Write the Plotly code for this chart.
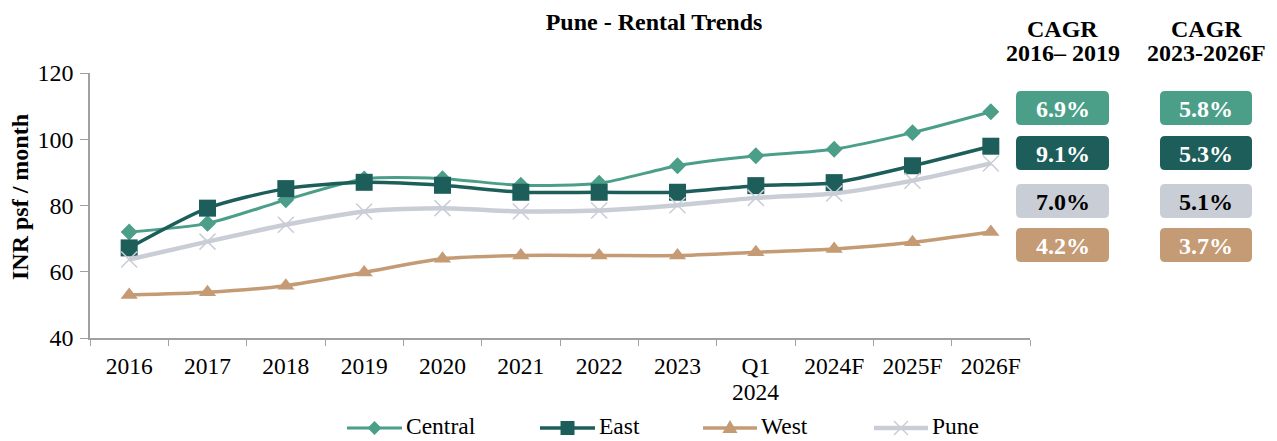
import plotly.graph_objects as go

# Categories and rent series (INR psf / month)
periods = ["2016", "2017", "2018", "2019", "2020", "2021", "2022", "2023",
           "Q1 2024", "2024F", "2025F", "2026F"]
tick_text = ["2016", "2017", "2018", "2019", "2020", "2021", "2022", "2023",
             "Q1", "2024F", "2025F", "2026F"]
central = [72, 74.6, 81.7, 88, 88.1, 86.1, 86.7, 92, 95, 97, 102, 108.3]
east = [67.2, 79.2, 85.1, 87, 86.1, 84, 84, 84, 86, 86.9, 92, 97.9]
west = [53, 53.8, 55.8, 59.8, 63.9, 64.9, 64.9, 64.9, 65.9, 66.9, 68.9, 72]
pune = [63.7, 69.1, 74.2, 78.2, 79.2, 78.2, 78.5, 80.1, 82.3, 83.6, 87.5, 92.7]

# CAGR tables
cagr_head = [("CAGR", "2016\u2013 2019"), ("CAGR", "2023-2026F")]
cagr_1619 = ["6.9%", "9.1%", "7.0%", "4.2%"]
cagr_2326 = ["5.8%", "5.3%", "5.1%", "3.7%"]

C_CENTRAL = "#4B9E88"
C_EAST = "#1D5E5A"
C_WEST = "#C49B74"
C_PUNE = "#C9CDD6"
FONT = "Liberation Serif"

W, H = 1277, 441
L, R, T, B = 90, 1030, 73, 338

fig = go.Figure()

series = [
    ("Central", central, C_CENTRAL, dict(symbol="diamond", size=13, color=C_CENTRAL), 3),
    ("East", east, C_EAST, dict(symbol="square", size=17, color=C_EAST), 3.5),
    ("West", west, C_WEST, dict(symbol="triangle-up", size=15, color=C_WEST), 3.5),
    ("Pune", pune, C_PUNE, dict(symbol="x-thin", size=16, color=C_PUNE,
                                line=dict(color=C_PUNE, width=1.5)), 4.5),
]
for name, vals, col, mk, lw in series:
    fig.add_trace(go.Scatter(
        x=periods, y=vals, name=name, mode="lines+markers",
        line=dict(color=col, width=lw, shape="spline", smoothing=0.7),
        marker=mk, cliponaxis=False, showlegend=False,
    ))


def px2paper(x, y):
    return (x - L) / (R - L), (B - y) / (B - T)


def pth(points, close=True):
    segs = []
    for i, (x, y) in enumerate(points):
        a, b = px2paper(x, y)
        segs.append(("M " if i == 0 else "L ") + f"{a:.5f},{b:.5f}")
    return " ".join(segs) + (" Z" if close else "")


def rounded_box(x0, y0, x1, y1, r=5):
    def p(x, y):
        a, b = px2paper(x, y)
        return f"{a:.5f},{b:.5f}"
    return (f"M {p(x0 + r, y0)} L {p(x1 - r, y0)} Q {p(x1, y0)} {p(x1, y0 + r)} "
            f"L {p(x1, y1 - r)} Q {p(x1, y1)} {p(x1 - r, y1)} "
            f"L {p(x0 + r, y1)} Q {p(x0, y1)} {p(x0, y1 - r)} "
            f"L {p(x0, y0 + r)} Q {p(x0, y0)} {p(x0 + r, y0)} Z")


shapes = []
annotations = []


def text_at(txt, x, y, size, color="black", xanchor="center", angle=0):
    ax, ay = px2paper(x, y)
    annotations.append(dict(
        text=txt, x=ax, y=ay, xref="paper", yref="paper", showarrow=False,
        font=dict(family=FONT, size=size, color=color), textangle=angle,
        xanchor=xanchor, yanchor="middle", borderpad=0,
    ))


# CAGR boxes
box_fills = [C_CENTRAL, C_EAST, C_PUNE, C_WEST]
text_cols = ["white", "white", "black", "white"]
rows_y = [(91, 125), (136, 170), (184, 218), (228, 262)]
cols_x = [(1016, 1109), (1160, 1252)]
for (h1, h2), vals, (cx0, cx1) in zip(cagr_head, [cagr_1619, cagr_2326], cols_x):
    cxm = (cx0 + cx1) / 2
    text_at(f"<b>{h1}</b>", cxm, 29, 24)
    text_at(f"<b>{h2}</b>", cxm, 53, 24)
    for ri, v in enumerate(vals):
        y0, y1 = rows_y[ri]
        shapes.append(dict(type="path", xref="paper", yref="paper",
                           path=rounded_box(cx0, y0, cx1, y1),
                           fillcolor=box_fills[ri], line=dict(width=0)))
        text_at(f"<b>{v}</b>", cxm, (y0 + y1) / 2 + 1, 24, text_cols[ri])

# y-axis title
text_at("<b>INR psf / month</b>", 20, 197, 24, angle=-90)

# second line of the "Q1 2024" category label
annotations.append(dict(
    text="2024", x="Q1 2024", xref="x", y=px2paper(0, 392)[1], yref="paper",
    showarrow=False, font=dict(family=FONT, size=23.5, color="black"),
    xanchor="center", yanchor="middle",
))

# legend
LY = 428
legend_items = [
    ("Central", C_CENTRAL, 347, 402, "diamond", 3),
    ("East", C_EAST, 540, 595, "square", 3.5),
    ("West", C_WEST, 703, 757, "triangle", 3.5),
    ("Pune", C_PUNE, 874, 928, "x", 4.5),
]
for name, col, lx0, lx1, sym, lw in legend_items:
    a0, b0 = px2paper(lx0, LY)
    a1, _ = px2paper(lx1, LY)
    shapes.append(dict(type="line", xref="paper", yref="paper", x0=a0, x1=a1,
                       y0=b0, y1=b0, line=dict(color=col, width=lw)))
    mx = (lx0 + lx1) / 2
    if sym == "diamond":
        shapes.append(dict(type="path", xref="paper", yref="paper",
                           path=pth([(mx, LY - 7), (mx + 7, LY), (mx, LY + 7), (mx - 7, LY)]),
                           fillcolor=col, line=dict(width=0)))
    elif sym == "square":
        shapes.append(dict(type="path", xref="paper", yref="paper",
                           path=pth([(mx - 7, LY - 7), (mx + 7, LY - 7), (mx + 7, LY + 7), (mx - 7, LY + 7)]),
                           fillcolor=col, line=dict(width=0)))
    elif sym == "triangle":
        shapes.append(dict(type="path", xref="paper", yref="paper",
                           path=pth([(mx, LY - 8), (mx + 7.5, LY + 5), (mx - 7.5, LY + 5)]),
                           fillcolor=col, line=dict(width=0)))
    else:
        for dx in (-1, 1):
            shapes.append(dict(type="path", xref="paper", yref="paper",
                               path=pth([(mx - 7 * dx, LY - 7), (mx + 7 * dx, LY + 7)], close=False),
                               line=dict(color=col, width=1.5)))
    text_at(name, lx1 + 3, LY - 2, 23.5, xanchor="left")

fig.update_layout(
    width=W, height=H,
    margin=dict(l=L, r=W - R, t=T, b=H - B),
    paper_bgcolor="white", plot_bgcolor="white",
    font=dict(family=FONT, size=23.5, color="black"),
    title=dict(text="<b>Pune - Rental Trends</b>", x=654 / W, xanchor="center",
               y=1 - 22 / H, yanchor="middle",
               font=dict(family=FONT, size=24, color="black")),
    shapes=shapes,
    annotations=annotations,
    showlegend=False,
    xaxis=dict(type="category", showline=True, linecolor="#A0A0A0", linewidth=1.5,
               ticks="outside", tickson="boundaries", ticklen=6, tickcolor="#A0A0A0",
               tickvals=periods, ticktext=tick_text, ticklabelstandoff=6,
               showgrid=False, zeroline=False, tickfont=dict(family=FONT, size=23.5),
               range=[-0.5, 11.5]),
    yaxis=dict(range=[40, 120], dtick=20, showline=True, linecolor="#A0A0A0",
               linewidth=1.5, ticks="outside", ticklen=8, tickcolor="#A0A0A0",
               showgrid=False, zeroline=False, tickfont=dict(family=FONT, size=24),
               ticklabelstandoff=2),
)

fig.write_html("out.html")
